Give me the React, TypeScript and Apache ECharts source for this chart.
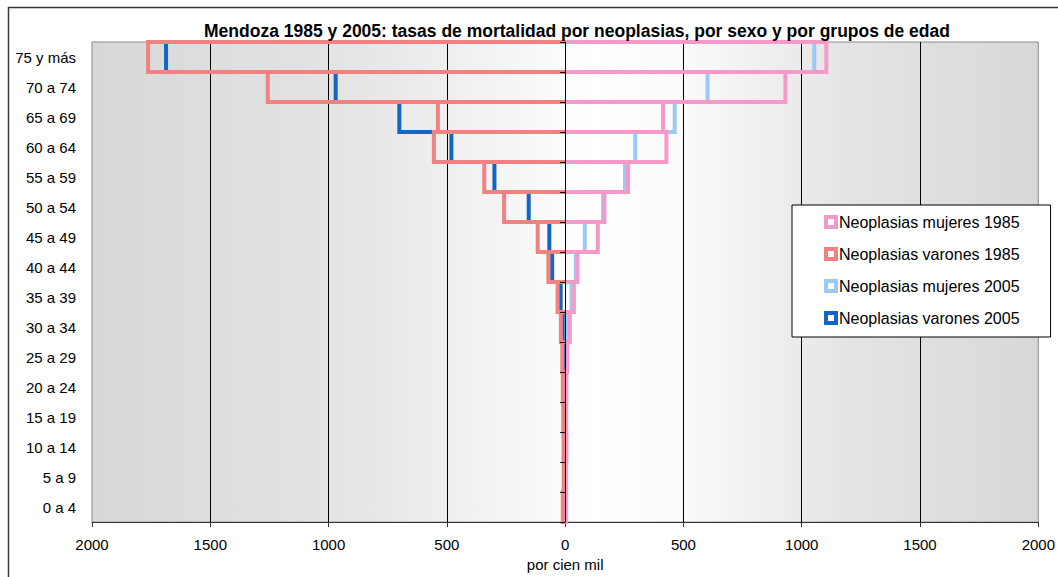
import React, { useEffect, useRef } from "react";
import * as echarts from "echarts";

const categories = [
  "0 a 4", "5 a 9", "10 a 14", "15 a 19", "20 a 24", "25 a 29", "30 a 34", "35 a 39",
  "40 a 44", "45 a 49", "50 a 54", "55 a 59", "60 a 64", "65 a 69", "70 a 74", "75 y más",
];
const mujeres1985 = [4, 3, 5, 4, 5, 8, 20, 37, 52, 138, 166, 266, 428, 414, 931, 1104];
const varones1985 = [10, 6, 7, 8, 10, 12, 18, 32, 71, 116, 258, 342, 555, 538, 1257, 1763];
const mujeres2005 = [3, 2, 3, 3, 4, 6, 12, 27, 45, 83, 160, 253, 296, 463, 602, 1053];
const varones2005 = [5, 3, 4, 5, 6, 8, 10, 19, 55, 67, 154, 299, 481, 701, 970, 1687];
const xTicks = [-2000, -1500, -1000, -500, 0, 500, 1000, 1500, 2000];

const TITLE = "Mendoza 1985 y 2005: tasas de mortalidad por neoplasias, por sexo y por grupos de edad";
const FONT = "'Liberation Sans', Arial, sans-serif";

export default function App() {
  const ref = useRef<HTMLDivElement>(null);
  useEffect(() => {
    const chart = echarts.init(ref.current!, null, { renderer: "svg" });

    const mk = (name: string, values: number[], sign: number, color: string) => ({
      name,
      type: "custom",
      xAxisIndex: 0,
      yAxisIndex: 0,
      silent: true,
      itemStyle: { color, borderColor: color },
      encode: { x: 0, y: 1 },
      data: values.map((v, i) => [sign * v, i]),
      renderItem: (params: any, api: any) => {
        const v = api.value(0);
        const c = api.value(1);
        const p0 = api.coord([0, c]);
        const p1 = api.coord([v, c]);
        const h = api.size([0, 1])[1];
        return {
          type: "polyline",
          shape: {
            points: [
              [p0[0], p0[1] - h / 2],
              [p1[0], p1[1] - h / 2],
              [p1[0], p1[1] + h / 2],
              [p0[0], p0[1] + h / 2],
            ],
          },
          style: { stroke: color, lineWidth: 4, fill: null, lineJoin: "miter" },
        };
      },
    });

    const grad = new echarts.graphic.LinearGradient(0, 0, 1, 0, [
      { offset: 0, color: "#d8d8d8" },
      { offset: 0.25, color: "#e3e3e3" },
      { offset: 0.45, color: "#f6f6f6" },
      { offset: 0.53, color: "#ffffff" },
      { offset: 0.62, color: "#fbfbfb" },
      { offset: 0.8, color: "#e4e4e4" },
      { offset: 1, color: "#d8d8d8" },
    ]);

    chart.setOption({
      animation: false,
      textStyle: { fontFamily: FONT },
      title: {
        text: TITLE,
        left: 572,
        textAlign: "center",
        top: 17,
        textStyle: { fontFamily: FONT, fontSize: 17.5, fontWeight: "bold", color: "#000" },
      },
      graphic: [
        {
          type: "rect",
          z: -10,
          shape: { x: 8.5, y: 7.5, width: 1200, height: 700 },
          style: { fill: "none", stroke: "#3a3a3a", lineWidth: 1.5 },
        },
      ],
      legend: {
        orient: "vertical",
        left: 792,
        top: 205,
        icon: "rect",
        data: [
          "Neoplasias mujeres 1985",
          "Neoplasias varones 1985",
          "Neoplasias mujeres 2005",
          "Neoplasias varones 2005",
        ],
        backgroundColor: "#fff",
        borderColor: "#000",
        borderWidth: 1,
        borderRadius: 0,
        padding: [9, 31, 11, 32],
        itemWidth: 10,
        itemHeight: 10,
        itemGap: 16,
        itemStyle: { color: "#fff", borderWidth: 4 },
        textStyle: { fontFamily: FONT, fontSize: 16, color: "#000", lineHeight: 16, padding: [0, 0, 0, -2] },
        selectedMode: false,
      },
      grid: {
        left: 92,
        right: 17,
        top: 42,
        bottom: 50,
        show: true,
        backgroundColor: grad,
        borderColor: "#8a8a8a",
        borderWidth: 1,
      },
      xAxis: {
        type: "value",
        min: xTicks[0],
        max: xTicks[xTicks.length - 1],
        interval: 500,
        name: "por cien mil",
        nameLocation: "middle",
        nameGap: 29,
        nameTextStyle: { fontFamily: FONT, fontSize: 15, color: "#000" },
        axisLine: { show: true, onZero: false, lineStyle: { color: "#333", width: 1 } },
        axisTick: { show: true, length: 5, lineStyle: { color: "#333" } },
        axisLabel: {
          fontFamily: FONT,
          fontSize: 15,
          color: "#000",
          margin: 15,
          formatter: (v: number) => String(Math.abs(v)),
        },
        splitLine: { show: true, showMinLine: false, showMaxLine: false, lineStyle: { color: "#000", width: 1 } },
      },
      yAxis: [
        {
          type: "category",
          data: categories,
          position: "left",
          axisLine: { show: false, onZero: false },
          axisTick: { show: false },
          axisLabel: { fontFamily: FONT, fontSize: 15, color: "#000", margin: 16 },
          splitLine: { show: false },
        },
        {
          type: "category",
          data: categories,
          position: "left",
          z: 10,
          axisLine: { show: true, onZero: true, lineStyle: { color: "#000", width: 1 } },
          axisTick: { show: true, length: 5, lineStyle: { color: "#000" } },
          axisLabel: { show: false },
          splitLine: { show: false },
        },
      ],
      series: [
        mk("Neoplasias mujeres 2005", mujeres2005, 1, "#9dcaf5"),
        mk("Neoplasias varones 2005", varones2005, -1, "#1465c4"),
        mk("Neoplasias mujeres 1985", mujeres1985, 1, "#f59ac8"),
        mk("Neoplasias varones 1985", varones1985, -1, "#f28181"),
      ],
    });
    return () => chart.dispose();
  }, []);
  return (
    <div
      ref={ref}
      style={{ position: "fixed", left: 0, top: 0, width: 1058, height: 577, background: "#fff" }}
    />
  );
}
